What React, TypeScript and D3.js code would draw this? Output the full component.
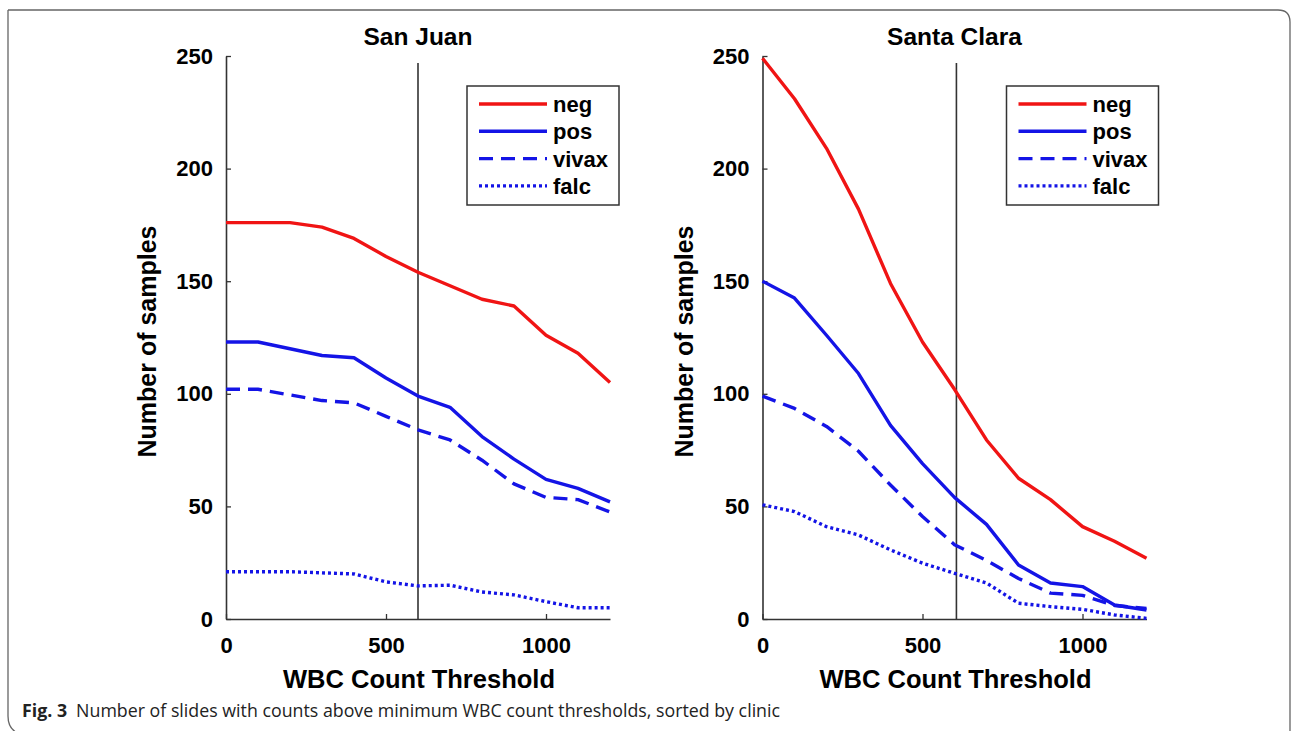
import { useEffect, useRef } from 'react'
import * as d3 from 'd3'

// WBC count thresholds (x values)
const thresholds = [0, 100, 200, 300, 400, 500, 600, 700, 800, 900, 1000, 1100, 1200]

const sanJuanNeg = [176, 176, 176, 174, 169, 161, 154, 148, 142, 139, 126, 118, 105]
const sanJuanPos = [123, 123, 120, 117, 116, 107, 99, 94, 81, 71, 62, 58, 52]
const sanJuanVivax = [102, 102, 99.5, 97, 96, 90, 84, 79.5, 70.5, 60, 54, 53, 47.5]
const sanJuanFalc = [21, 21, 21, 20.5, 20, 16.5, 14.7, 15, 12, 10.7, 7.7, 5, 5]

const santaClaraNeg = [249, 231, 209, 182, 149, 123, 102, 79.5, 62.5, 53, 41, 34.5, 27]
const santaClaraPos = [150, 142.5, 126, 109, 86, 69, 54, 42, 24, 16, 14.4, 6.2, 4]
const santaClaraVivax = [99, 93.5, 85.5, 74.5, 59.5, 45.5, 33, 26, 18, 11.5, 10.5, 6, 4.7]
const santaClaraFalc = [50.7, 47.7, 41, 37.3, 30.7, 24.8, 20.3, 16, 7, 5.5, 4.3, 1.8, 0.3]

const seriesNames = ['neg', 'pos', 'vivax', 'falc']
const clinics = ['San Juan', 'Santa Clara']
const cutoffs = [600, 606]
const yTicks = [0, 50, 100, 150, 200, 250]
const xTicks = [0, 500, 1000]

const panelData = [
  [sanJuanNeg, sanJuanPos, sanJuanVivax, sanJuanFalc],
  [santaClaraNeg, santaClaraPos, santaClaraVivax, santaClaraFalc],
]

const lineStyle: Record<string, { color: string; dash: string | null }> = {
  neg: { color: '#f01414', dash: null },
  pos: { color: '#1414e6', dash: null },
  vivax: { color: '#1414e6', dash: '14 8' },
  falc: { color: '#1414e6', dash: '3 3' },
}

const FONT = "'Liberation Sans', Arial, sans-serif"
const AXIS = '#333'

export default function App() {
  const svgRef = useRef<SVGSVGElement>(null)

  useEffect(() => {
    if (!svgRef.current) return
    const svg = d3.select(svgRef.current)
    svg.selectAll('*').remove()

    // outer frame with rounded top-right / bottom-left corners
    svg.append('path')
      .attr('d', 'M8,10 H1278 Q1290,10 1290,22 V740 M8,10 V716 Q8,730 20,734')
      .attr('fill', 'none')
      .attr('stroke', '#666')
      .attr('stroke-width', 1.3)

    const lefts = [226, 762.5]
    const top = 56
    const width = 384
    const height = 563

    clinics.forEach((clinic, p) => {
      const g = svg.append('g').attr('transform', `translate(${lefts[p]},${top})`)

      const x = d3.scaleLinear().domain([0, 1200]).range([0, width])
      const y = d3.scaleLinear().domain([0, 250]).range([height, 0])

      // title
      g.append('text')
        .attr('x', width / 2)
        .attr('y', -11)
        .attr('text-anchor', 'middle')
        .style('font-family', FONT)
        .style('font-weight', 'bold')
        .style('font-size', '24.5px')
        .text(clinic)

      // y axis
      const ya = g.append('g')
        .call(d3.axisLeft(y).tickValues(yTicks).tickFormat(d3.format('d')).tickSizeInner(-5).tickSizeOuter(0).tickPadding(13))
      ya.select('.domain').attr('stroke', AXIS).attr('stroke-width', 1.6)
      ya.selectAll('.tick line').attr('stroke', AXIS).attr('stroke-width', 1.3)
      ya.selectAll('.tick text')
        .attr('fill', '#000')
        .style('font-family', FONT)
        .style('font-weight', 'bold')
        .style('font-size', '22px')

      // x axis
      const xa = g.append('g')
        .attr('transform', `translate(0,${height})`)
        .call(d3.axisBottom(x).tickValues(xTicks).tickFormat(d3.format('d')).tickSizeInner(-5).tickSizeOuter(0).tickPadding(18))
      xa.select('.domain').attr('stroke', AXIS).attr('stroke-width', 1.6)
      xa.selectAll('.tick line').attr('stroke', AXIS).attr('stroke-width', 1.3)
      xa.selectAll('.tick text')
        .attr('fill', '#000')
        .style('font-family', FONT)
        .style('font-weight', 'bold')
        .style('font-size', '22px')

      // axis labels
      g.append('text')
        .attr('transform', `translate(${-70},${height / 2 + 4}) rotate(-90)`)
        .attr('text-anchor', 'middle')
        .style('font-family', FONT)
        .style('font-weight', 'bold')
        .style('font-size', '25px')
        .text('Number of samples')

      g.append('text')
        .attr('x', width / 2 + 1)
        .attr('y', height + 69)
        .attr('text-anchor', 'middle')
        .style('font-family', FONT)
        .style('font-weight', 'bold')
        .style('font-size', '25.5px')
        .text('WBC Count Threshold')

      // threshold line
      g.append('line')
        .attr('x1', x(cutoffs[p]))
        .attr('x2', x(cutoffs[p]))
        .attr('y1', 7)
        .attr('y2', height)
        .attr('stroke', AXIS)
        .attr('stroke-width', 1.6)

      // series lines
      const line = d3.line<number>()
        .x((_, i) => x(thresholds[i]))
        .y(d => y(d))

      seriesNames.forEach((name, s) => {
        const st = lineStyle[name]
        g.append('path')
          .datum(panelData[p][s])
          .attr('d', line)
          .attr('fill', 'none')
          .attr('stroke', st.color)
          .attr('stroke-width', 3.4)
          .attr('stroke-linejoin', 'round')
          .attr('stroke-dasharray', st.dash)
      })

      // legend
      const lg = g.append('g').attr('transform', `translate(${p === 0 ? 241 : 244},30)`)
      lg.append('rect')
        .attr('width', 152)
        .attr('height', 119)
        .attr('fill', '#fff')
        .attr('stroke', AXIS)
        .attr('stroke-width', 1.5)
      seriesNames.forEach((name, s) => {
        const st = lineStyle[name]
        const ry = 18 + s * 27.3
        lg.append('line')
          .attr('x1', 12)
          .attr('x2', 80)
          .attr('y1', ry)
          .attr('y2', ry)
          .attr('stroke', st.color)
          .attr('stroke-width', 3.4)
          .attr('stroke-dasharray', st.dash)
        lg.append('text')
          .attr('x', 86)
          .attr('y', ry + 8)
          .style('font-family', FONT)
          .style('font-weight', 'bold')
          .style('font-size', '22px')
          .text(name)
      })
    })

    // caption
    const cap = svg.append('text')
      .attr('x', 22)
      .attr('y', 717)
      .style('font-family', "'Open Sans', sans-serif")
      .style('font-size', '17.8px')
      .attr('fill', '#222')
    cap.append('tspan').style('font-weight', 'bold').text('Fig. 3')
    cap.append('tspan').attr('dx', 9).text('Number of slides with counts above minimum WBC count thresholds, sorted by clinic')
  }, [])

  return (
    <svg
      ref={svgRef}
      width={1292}
      height={731}
      style={{ position: 'absolute', left: 0, top: 0, background: '#fff' }}
    />
  )
}
